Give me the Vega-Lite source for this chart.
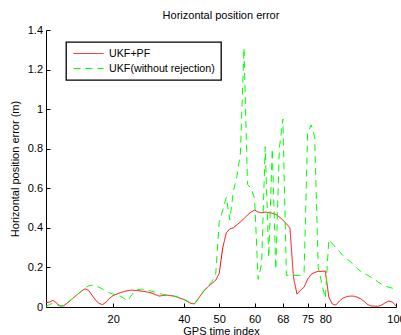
{
  "$schema": "https://vega.github.io/schema/vega-lite/v6.json",
  "width": 350,
  "height": 277,
  "autosize": {"type": "none"},
  "padding": {"left": 46, "top": 30, "right": 5, "bottom": 28},
  "background": "white",
  "title": {"text": "Horizontal position error", "fontSize": 11, "fontWeight": "normal", "font": "Liberation Sans", "color": "black", "offset": 3},
  "data": {
    "values": [
      {"i":1,"m":"UKF+PF","e":0.022},{"i":2,"m":"UKF+PF","e":0.025},{"i":3,"m":"UKF+PF","e":0.034},{"i":4,"m":"UKF+PF","e":0.02},{"i":5,"m":"UKF+PF","e":0.005},
      {"i":6,"m":"UKF+PF","e":0.006},{"i":7,"m":"UKF+PF","e":0.02},{"i":8,"m":"UKF+PF","e":0.035},{"i":9,"m":"UKF+PF","e":0.05},{"i":10,"m":"UKF+PF","e":0.065},
      {"i":11,"m":"UKF+PF","e":0.08},{"i":12,"m":"UKF+PF","e":0.092},{"i":13,"m":"UKF+PF","e":0.085},{"i":14,"m":"UKF+PF","e":0.06},{"i":15,"m":"UKF+PF","e":0.035},
      {"i":16,"m":"UKF+PF","e":0.018},{"i":17,"m":"UKF+PF","e":0.012},{"i":18,"m":"UKF+PF","e":0.025},{"i":19,"m":"UKF+PF","e":0.045},{"i":20,"m":"UKF+PF","e":0.058},
      {"i":21,"m":"UKF+PF","e":0.065},{"i":22,"m":"UKF+PF","e":0.072},{"i":23,"m":"UKF+PF","e":0.078},{"i":24,"m":"UKF+PF","e":0.082},{"i":25,"m":"UKF+PF","e":0.085},
      {"i":26,"m":"UKF+PF","e":0.084},{"i":27,"m":"UKF+PF","e":0.083},{"i":28,"m":"UKF+PF","e":0.08},{"i":29,"m":"UKF+PF","e":0.078},{"i":30,"m":"UKF+PF","e":0.074},
      {"i":31,"m":"UKF+PF","e":0.07},{"i":32,"m":"UKF+PF","e":0.062},{"i":33,"m":"UKF+PF","e":0.055},{"i":34,"m":"UKF+PF","e":0.058},{"i":35,"m":"UKF+PF","e":0.06},
      {"i":36,"m":"UKF+PF","e":0.058},{"i":37,"m":"UKF+PF","e":0.056},{"i":38,"m":"UKF+PF","e":0.052},{"i":39,"m":"UKF+PF","e":0.044},{"i":40,"m":"UKF+PF","e":0.038},
      {"i":41,"m":"UKF+PF","e":0.028},{"i":42,"m":"UKF+PF","e":0.018},{"i":43,"m":"UKF+PF","e":0.016},{"i":44,"m":"UKF+PF","e":0.04},{"i":45,"m":"UKF+PF","e":0.065},
      {"i":46,"m":"UKF+PF","e":0.088},{"i":47,"m":"UKF+PF","e":0.105},{"i":48,"m":"UKF+PF","e":0.12},{"i":49,"m":"UKF+PF","e":0.135},{"i":50,"m":"UKF+PF","e":0.17},
      {"i":51,"m":"UKF+PF","e":0.3},{"i":52,"m":"UKF+PF","e":0.375},{"i":53,"m":"UKF+PF","e":0.395},{"i":54,"m":"UKF+PF","e":0.4},{"i":55,"m":"UKF+PF","e":0.415},
      {"i":56,"m":"UKF+PF","e":0.43},{"i":57,"m":"UKF+PF","e":0.447},{"i":58,"m":"UKF+PF","e":0.465},{"i":59,"m":"UKF+PF","e":0.48},{"i":60,"m":"UKF+PF","e":0.49},
      {"i":61,"m":"UKF+PF","e":0.48},{"i":62,"m":"UKF+PF","e":0.476},{"i":63,"m":"UKF+PF","e":0.48},{"i":64,"m":"UKF+PF","e":0.477},{"i":65,"m":"UKF+PF","e":0.474},
      {"i":66,"m":"UKF+PF","e":0.468},{"i":67,"m":"UKF+PF","e":0.455},{"i":68,"m":"UKF+PF","e":0.44},{"i":69,"m":"UKF+PF","e":0.42},{"i":70,"m":"UKF+PF","e":0.4},
      {"i":71,"m":"UKF+PF","e":0.15},{"i":72,"m":"UKF+PF","e":0.065},{"i":73,"m":"UKF+PF","e":0.085},{"i":74,"m":"UKF+PF","e":0.1},{"i":75,"m":"UKF+PF","e":0.14},
      {"i":76,"m":"UKF+PF","e":0.165},{"i":77,"m":"UKF+PF","e":0.175},{"i":78,"m":"UKF+PF","e":0.18},{"i":79,"m":"UKF+PF","e":0.18},{"i":80,"m":"UKF+PF","e":0.182},
      {"i":81,"m":"UKF+PF","e":0.05},{"i":82,"m":"UKF+PF","e":0.015},{"i":83,"m":"UKF+PF","e":0.01},{"i":84,"m":"UKF+PF","e":0.03},{"i":85,"m":"UKF+PF","e":0.045},
      {"i":86,"m":"UKF+PF","e":0.052},{"i":87,"m":"UKF+PF","e":0.055},{"i":88,"m":"UKF+PF","e":0.055},{"i":89,"m":"UKF+PF","e":0.05},{"i":90,"m":"UKF+PF","e":0.042},
      {"i":91,"m":"UKF+PF","e":0.028},{"i":92,"m":"UKF+PF","e":0.012},{"i":93,"m":"UKF+PF","e":0.005},{"i":94,"m":"UKF+PF","e":0.004},{"i":95,"m":"UKF+PF","e":0.004},
      {"i":96,"m":"UKF+PF","e":0.01},{"i":97,"m":"UKF+PF","e":0.022},{"i":98,"m":"UKF+PF","e":0.03},{"i":99,"m":"UKF+PF","e":0.025},{"i":100,"m":"UKF+PF","e":0.005},

      {"i":1,"m":"UKF(without rejection)","e":0.004},{"i":2,"m":"UKF(without rejection)","e":0.012},{"i":3,"m":"UKF(without rejection)","e":0.02},{"i":4,"m":"UKF(without rejection)","e":0.012},{"i":5,"m":"UKF(without rejection)","e":0.005},
      {"i":6,"m":"UKF(without rejection)","e":0.008},{"i":7,"m":"UKF(without rejection)","e":0.02},{"i":8,"m":"UKF(without rejection)","e":0.035},{"i":9,"m":"UKF(without rejection)","e":0.05},{"i":10,"m":"UKF(without rejection)","e":0.065},
      {"i":11,"m":"UKF(without rejection)","e":0.08},{"i":12,"m":"UKF(without rejection)","e":0.095},{"i":13,"m":"UKF(without rejection)","e":0.107},{"i":14,"m":"UKF(without rejection)","e":0.11},{"i":15,"m":"UKF(without rejection)","e":0.105},
      {"i":16,"m":"UKF(without rejection)","e":0.1},{"i":17,"m":"UKF(without rejection)","e":0.09},{"i":18,"m":"UKF(without rejection)","e":0.08},{"i":19,"m":"UKF(without rejection)","e":0.071},{"i":20,"m":"UKF(without rejection)","e":0.065},
      {"i":21,"m":"UKF(without rejection)","e":0.06},{"i":22,"m":"UKF(without rejection)","e":0.055},{"i":23,"m":"UKF(without rejection)","e":0.045},{"i":24,"m":"UKF(without rejection)","e":0.03},{"i":25,"m":"UKF(without rejection)","e":0.055},
      {"i":26,"m":"UKF(without rejection)","e":0.08},{"i":27,"m":"UKF(without rejection)","e":0.088},{"i":28,"m":"UKF(without rejection)","e":0.09},{"i":29,"m":"UKF(without rejection)","e":0.088},{"i":30,"m":"UKF(without rejection)","e":0.084},
      {"i":31,"m":"UKF(without rejection)","e":0.079},{"i":32,"m":"UKF(without rejection)","e":0.074},{"i":33,"m":"UKF(without rejection)","e":0.068},{"i":34,"m":"UKF(without rejection)","e":0.064},{"i":35,"m":"UKF(without rejection)","e":0.061},
      {"i":36,"m":"UKF(without rejection)","e":0.058},{"i":37,"m":"UKF(without rejection)","e":0.055},{"i":38,"m":"UKF(without rejection)","e":0.05},{"i":39,"m":"UKF(without rejection)","e":0.045},{"i":40,"m":"UKF(without rejection)","e":0.038},
      {"i":41,"m":"UKF(without rejection)","e":0.03},{"i":42,"m":"UKF(without rejection)","e":0.02},{"i":43,"m":"UKF(without rejection)","e":0.017},{"i":44,"m":"UKF(without rejection)","e":0.04},{"i":45,"m":"UKF(without rejection)","e":0.068},
      {"i":46,"m":"UKF(without rejection)","e":0.09},{"i":47,"m":"UKF(without rejection)","e":0.11},{"i":48,"m":"UKF(without rejection)","e":0.13},{"i":49,"m":"UKF(without rejection)","e":0.165},{"i":50,"m":"UKF(without rejection)","e":0.43},
      {"i":51,"m":"UKF(without rejection)","e":0.49},{"i":52,"m":"UKF(without rejection)","e":0.555},{"i":53,"m":"UKF(without rejection)","e":0.44},{"i":54,"m":"UKF(without rejection)","e":0.585},{"i":55,"m":"UKF(without rejection)","e":0.66},
      {"i":56,"m":"UKF(without rejection)","e":0.78},{"i":57,"m":"UKF(without rejection)","e":1.31},{"i":58,"m":"UKF(without rejection)","e":0.62},{"i":59,"m":"UKF(without rejection)","e":0.6},{"i":60,"m":"UKF(without rejection)","e":0.55},
      {"i":61,"m":"UKF(without rejection)","e":0.14},{"i":62,"m":"UKF(without rejection)","e":0.22},{"i":63,"m":"UKF(without rejection)","e":0.81},{"i":64,"m":"UKF(without rejection)","e":0.25},{"i":65,"m":"UKF(without rejection)","e":0.8},
      {"i":66,"m":"UKF(without rejection)","e":0.19},{"i":67,"m":"UKF(without rejection)","e":0.8},{"i":68,"m":"UKF(without rejection)","e":0.95},{"i":69,"m":"UKF(without rejection)","e":0.16},{"i":70,"m":"UKF(without rejection)","e":0.16},
      {"i":71,"m":"UKF(without rejection)","e":0.16},{"i":72,"m":"UKF(without rejection)","e":0.16},{"i":73,"m":"UKF(without rejection)","e":0.16},{"i":74,"m":"UKF(without rejection)","e":0.17},{"i":75,"m":"UKF(without rejection)","e":0.88},
      {"i":76,"m":"UKF(without rejection)","e":0.92},{"i":77,"m":"UKF(without rejection)","e":0.86},{"i":78,"m":"UKF(without rejection)","e":0.2},{"i":79,"m":"UKF(without rejection)","e":0.12},{"i":80,"m":"UKF(without rejection)","e":0.045},
      {"i":81,"m":"UKF(without rejection)","e":0.34},{"i":82,"m":"UKF(without rejection)","e":0.32},{"i":83,"m":"UKF(without rejection)","e":0.3},{"i":84,"m":"UKF(without rejection)","e":0.28},{"i":85,"m":"UKF(without rejection)","e":0.26},
      {"i":86,"m":"UKF(without rejection)","e":0.245},{"i":87,"m":"UKF(without rejection)","e":0.23},{"i":88,"m":"UKF(without rejection)","e":0.215},{"i":89,"m":"UKF(without rejection)","e":0.195},{"i":90,"m":"UKF(without rejection)","e":0.18},
      {"i":91,"m":"UKF(without rejection)","e":0.17},{"i":92,"m":"UKF(without rejection)","e":0.16},{"i":93,"m":"UKF(without rejection)","e":0.15},{"i":94,"m":"UKF(without rejection)","e":0.14},{"i":95,"m":"UKF(without rejection)","e":0.125},
      {"i":96,"m":"UKF(without rejection)","e":0.115},{"i":97,"m":"UKF(without rejection)","e":0.105},{"i":98,"m":"UKF(without rejection)","e":0.1},{"i":99,"m":"UKF(without rejection)","e":0.095},{"i":100,"m":"UKF(without rejection)","e":0.09}
    ]
  },
  "mark": {"type": "line", "strokeWidth": 1, "clip": true},
  "encoding": {
    "x": {"field": "i", "type": "quantitative", "scale": {"domain": [1, 100], "nice": false, "zero": false},
      "axis": {"title": "GPS time index", "values": [20, 40, 50, 60, 68, 75, 80, 100], "labelFlush": false, "labelOverlap": false, "tickSize": -4, "labelPadding": 10, "titlePadding": 1}},
    "y": {"field": "e", "type": "quantitative", "scale": {"domain": [0, 1.4], "nice": false},
      "axis": {"title": "Horizontal position error (m)", "values": [0, 0.2, 0.4, 0.6, 0.8, 1, 1.2, 1.4], "format": "~g", "labelFlush": false, "labelOverlap": false, "tickSize": -4, "labelPadding": 7.5, "titlePadding": 7}},
    "color": {"field": "m", "type": "nominal", "sort": ["UKF+PF", "UKF(without rejection)"],
      "scale": {"domain": ["UKF+PF", "UKF(without rejection)"], "range": ["#ff0000", "#00ff00"]}, "title": null},
    "strokeDash": {"field": "m", "type": "nominal", "sort": ["UKF+PF", "UKF(without rejection)"],
      "scale": {"domain": ["UKF+PF", "UKF(without rejection)"], "range": [[1, 0], [7, 5]]}, "title": null},
    "order": {"field": "i", "type": "quantitative"}
  },
  "config": {
    "view": {"stroke": null},
    "font": "Liberation Sans",
    "axis": {"grid": false, "domainColor": "black", "domainWidth": 1, "tickColor": "black", "tickWidth": 1, "labelColor": "black", "titleColor": "black", "labelFontSize": 11, "titleFontSize": 11, "titleFontWeight": "normal", "labelFont": "Liberation Sans", "titleFont": "Liberation Sans"},
    "legend": {"orient": "none", "legendX": 20, "legendY": 12, "strokeColor": "black", "strokeWidth": 1.3, "fillColor": "white", "padding": 6, "symbolType": "M-3,0H3", "symbolSize": 100, "symbolOffset": 11, "symbolStrokeWidth": 1, "labelFontSize": 10.7, "labelFont": "Liberation Sans", "labelColor": "black", "labelOffset": 15, "rowPadding": 3, "cornerRadius": 0}
  }
}
